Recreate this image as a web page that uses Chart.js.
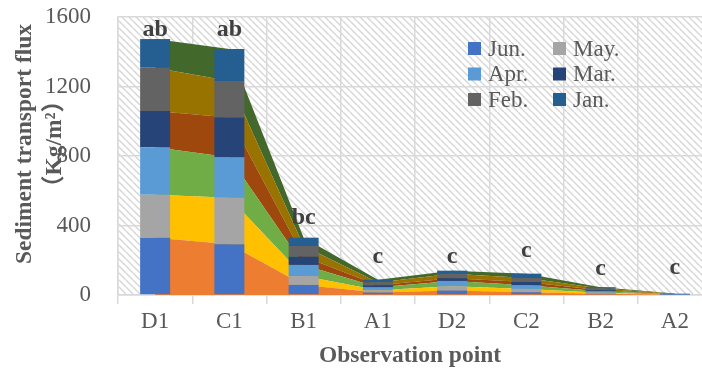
<!DOCTYPE html>
<html><head><meta charset="utf-8">
<script src="https://cdn.jsdelivr.net/npm/chart.js@4.4.1/dist/chart.umd.min.js"></script>
<style>
html,body{margin:0;padding:0;background:#fff;overflow:hidden}
#wrap{width:702px;height:374px;overflow:hidden;position:relative}
canvas{display:block}
</style>
</head><body><div id="wrap"><canvas id="c" width="712" height="374"></canvas></div>
<script>
// ---------- data ----------
const categories = ['D1','C1','B1','A1','D2','C2','B2','A2'];
const monthLabels = ['Jun.','May.','Apr.','Mar.','Feb.','Jan.'];
const jun = [330, 292, 58, 14, 26, 16, 7, 1];
const may = [247, 268, 51, 13, 24, 19, 6, 1];
const apr = [273, 233, 64, 17, 31, 21, 8, 2];
const mar = [209, 228, 48, 12, 16, 19, 7, 1];
const feb = [249, 211, 61, 16, 25, 23, 9, 2];
const jan = [165, 184, 48, 16, 18, 25, 8, 1];
const sigLetters = ['ab','ab','bc','c','c','c','c','c'];
const sigLetterAt = [1525, 1525, 443, 219, 219, 253, 150, 155];
const yTickValues = [0, 400, 800, 1200, 1600];
const yTitleLines = ['Sediment transport flux', '（Kg/m²）'];
const xTitle = 'Observation point';

// ---------- styles ----------
const FONT = "'Liberation Serif','Times New Roman','Noto Sans CJK SC',serif";
const barColors = ['#4472C4','#A5A5A5','#5B9BD5','#264478','#636363','#255E91'];
const areaColors = ['#ED7D31','#FFC000','#70AD47','#9E480E','#997300','#43682B'];
const series = [jun, may, apr, mar, feb, jan];

const datasets = [];
series.forEach((d, i) => datasets.push({
  type: 'bar', label: monthLabels[i], data: d, backgroundColor: barColors[i],
  borderWidth: 0, barPercentage: 0.404, categoryPercentage: 1, order: 0, stack: 'bars'
}));
series.forEach((d, i) => datasets.push({
  type: 'line', label: monthLabels[i] + ' area', data: d, backgroundColor: areaColors[i],
  borderColor: areaColors[i], borderWidth: 0, pointRadius: 0, pointHoverRadius: 0,
  fill: i === 0 ? 'origin' : '-1', order: 1, stack: 'areas', tension: 0
}));

const ctx = document.getElementById('c').getContext('2d');

function makeHatch() {
  const s = 7;
  const c = document.createElement('canvas');
  c.width = s; c.height = s;
  const g = c.getContext('2d');
  g.fillStyle = '#ffffff'; g.fillRect(0, 0, s, s);
  g.strokeStyle = '#d6d6d6'; g.lineWidth = 1.4;
  g.beginPath();
  for (let k = -1; k <= 1; k++) { g.moveTo(k * s, 0); g.lineTo(k * s + s, s); }
  g.stroke();
  return ctx.createPattern(c, 'repeat');
}
const hatch = makeHatch();

const overlay = {
  id: 'overlay',
  beforeDraw(chart) {
    const { ctx, chartArea: a } = chart;
    ctx.save();
    ctx.fillStyle = hatch;
    ctx.fillRect(a.left, a.top, a.right - a.left, a.bottom - a.top);
    ctx.restore();
  },
  afterDatasetsDraw(chart) {
    const { ctx, scales: { x, y } } = chart;
    ctx.save();
    // significance letters
    ctx.font = `bold 24px ${FONT}`;
    ctx.fillStyle = '#404040';
    ctx.textAlign = 'center';
    ctx.textBaseline = 'middle';
    sigLetters.forEach((t, i) => ctx.fillText(t, x.getPixelForValue(i), y.getPixelForValue(sigLetterAt[i])));
    // legend (bars only), 2 columns
    const bars = chart.data.datasets.filter(d => d.type === 'bar');
    const colX = [468, 553], rowY = [48.5, 74, 99.5];
    ctx.font = `23px ${FONT}`;
    ctx.textAlign = 'left';
    bars.forEach((d, i) => {
      const cx = colX[i % 2], cy = rowY[Math.floor(i / 2)];
      ctx.fillStyle = d.backgroundColor;
      ctx.fillRect(cx, cy - 6.5, 13, 13);
      ctx.fillStyle = '#595959';
      ctx.fillText(d.label, cx + 20, cy + 1);
    });
    ctx.restore();
  },
  afterDraw(chart) {
    const { ctx } = chart;
    ctx.save();
    ctx.fillStyle = '#595959';
    ctx.textAlign = 'center';
    ctx.textBaseline = 'middle';
    ctx.font = `bold 23.5px ${FONT}`;
    ctx.fillText(xTitle, 410, 356);
    [[25, 0], [55, 1]].forEach(([px, li]) => {
      ctx.save();
      ctx.translate(px, 144);
      ctx.rotate(-Math.PI / 2);
      ctx.fillText(yTitleLines[li], 0, 0);
      ctx.restore();
    });
    ctx.restore();
  }
};

const noPad = s => { s.paddingTop = 0; s.paddingBottom = 0; s.paddingLeft = 0; s.paddingRight = 0; };

new Chart(ctx, {
  data: { labels: categories, datasets },
  options: {
    responsive: false,
    animation: false,
    devicePixelRatio: 1,
    layout: { padding: { top: 17, left: 0, right: 0, bottom: 0 } },
    plugins: { legend: { display: false }, tooltip: { enabled: false } },
    scales: {
      x: {
        stacked: true, offset: true,
        grid: { offset: true, color: '#d9d9d9', lineWidth: 1.5, drawTicks: true, tickLength: 9 },
        border: { display: true, color: '#d9d9d9', width: 1.5 },
        ticks: { color: '#595959', font: { family: FONT, size: 23 }, padding: 4, maxRotation: 0, autoSkip: false },
        afterFit: s => { s.height = 79; noPad(s); }
      },
      y: {
        stacked: true, min: 0, max: 1600,
        afterBuildTicks: s => { s.ticks = yTickValues.map(v => ({ value: v })); },
        grid: { color: '#d9d9d9', lineWidth: 1.5, drawTicks: false },
        border: { display: true, color: '#d9d9d9', width: 1.5 },
        ticks: { color: '#595959', font: { family: FONT, size: 23 }, padding: 27, callback: v => String(v) },
        afterFit: s => { s.width = 118; noPad(s); }
      }
    }
  },
  plugins: [overlay]
});
</script>
</body></html>
